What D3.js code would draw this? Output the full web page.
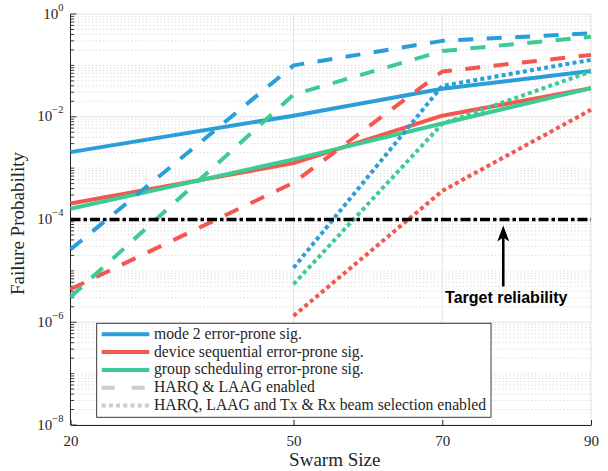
<!DOCTYPE html>
<html>
<head>
<meta charset="utf-8">
<script src="https://cdn.jsdelivr.net/npm/d3@7"></script>
<style>
  html, body { margin: 0; padding: 0; background: #fff; }
  svg { display: block; }
</style>
</head>
<body>
<svg id="chart" width="608" height="471"></svg>
<script>
// Swarm sizes evaluated
const swarmSizes = [20, 50, 70, 90];
const swarmSizesBeam = [50, 70, 90];

// Failure probability, plain error-prone signalling
const mode2Plain  = [2.05e-3, 1.05e-2, 0.035, 0.078];
const devSeqPlain = [2.05e-4, 1.25e-3, 1.05e-2, 0.036];
const groupPlain  = [1.62e-4, 1.48e-3, 7.4e-3, 0.036];

// With HARQ & LAAG
const mode2Harq  = [2.6e-5, 0.10, 0.30, 0.42];
const devSeqHarq = [4.4e-6, 5.2e-4, 0.076, 0.16];
const groupHarq  = [3.1e-6, 0.027, 0.19, 0.36];

// With HARQ, LAAG and Tx & Rx beam selection
const mode2Beam  = [1.15e-5, 0.040, 0.128];
const devSeqBeam = [1.33e-6, 3.6e-4, 0.0137];
const groupBeam  = [5.5e-6, 7.3e-3, 0.076];

const targetReliability = 1e-4;

const xTicks = [20, 50, 70, 90];
const yTickExponents = [0, -2, -4, -6, -8];

const legendLabels = [
  "mode 2 error-prone sig.",
  "device sequential error-prone sig.",
  "group scheduling error-prone sig.",
  "HARQ & LAAG enabled",
  "HARQ, LAAG and Tx & Rx beam selection enabled"
];

const annotationText = "Target reliability";
const annotationX = 78.2;

// ---- drawing ----
const BLUE = "#2a9ed8", RED = "#f4574f", GREEN = "#3ccb93";
const AXIS = "#262626";
const SERIF = "'Liberation Serif', 'Times New Roman', serif";

const svg = d3.select("#chart");
svg.append("rect").attr("width", 608).attr("height", 471).attr("fill", "#fff");

const plot = { left: 70.5, right: 591, top: 14, bottom: 425 };

const x = d3.scaleLinear().domain([20, 90]).range([plot.left, plot.right]);
const y = d3.scaleLog().domain([1e-8, 1]).range([plot.bottom, plot.top]);

// grid
const grid = svg.append("g");
const minorVals = [];
for (let e = -8; e < 0; e++) {
  for (let k = 1; k <= 9; k++) {
    const v = k * Math.pow(10, e);
    if (k === 1 && e % 2 === 0) continue;
    minorVals.push(v);
  }
}
grid.selectAll("line.minor").data(minorVals).join("line")
  .attr("x1", plot.left).attr("x2", plot.right)
  .attr("y1", d => y(d)).attr("y2", d => y(d))
  .attr("stroke", "#c4c4c4").attr("stroke-width", 0.8)
  .attr("stroke-dasharray", "1,2.6");
grid.selectAll("line.majy").data(yTickExponents.map(e => Math.pow(10, e))).join("line")
  .attr("x1", plot.left).attr("x2", plot.right)
  .attr("y1", d => y(d)).attr("y2", d => y(d))
  .attr("stroke", "#e2e2e2").attr("stroke-width", 1);
grid.selectAll("line.majx").data(xTicks.slice(1)).join("line")
  .attr("x1", d => x(d)).attr("x2", d => x(d))
  .attr("y1", plot.top).attr("y2", plot.bottom)
  .attr("stroke", "#e2e2e2").attr("stroke-width", 1);

// axes
const xAxis = d3.axisBottom(x).tickValues(xTicks).tickSizeInner(-5).tickSizeOuter(0)
  .tickPadding(10).tickFormat(d3.format("d"));
const gx = svg.append("g").attr("transform", `translate(0,${plot.bottom})`).call(xAxis);
gx.select(".domain").attr("stroke", AXIS);
gx.selectAll(".tick line").attr("stroke", AXIS);
gx.selectAll(".tick text").attr("font-family", SERIF).attr("font-size", 15).attr("fill", AXIS);

const allYTicks = [];
for (let e = -8; e < 0; e++) for (let k = 1; k <= 9; k++) allYTicks.push(k * Math.pow(10, e));
allYTicks.push(1);
const gy = svg.append("g").attr("transform", `translate(${plot.left},0)`);
gy.append("line").attr("x1", 0).attr("x2", 0).attr("y1", plot.top).attr("y2", plot.bottom)
  .attr("stroke", AXIS);
gy.selectAll("line.t").data(allYTicks).join("line")
  .attr("x1", 0)
  .attr("x2", d => { const l = Math.log10(d); return Math.abs(l - Math.round(l)) < 1e-9 && Math.round(l) % 2 === 0 ? 6 : 3.5; })
  .attr("y1", d => y(d)).attr("y2", d => y(d))
  .attr("stroke", AXIS).attr("stroke-width", 0.9);
const yl = gy.selectAll("text.lab").data(yTickExponents).join("text")
  .attr("x", -7).attr("y", d => y(Math.pow(10, d)) + 4.5)
  .attr("text-anchor", "end").attr("font-family", SERIF).attr("font-size", 15).attr("fill", AXIS);
yl.append("tspan").text("10");
yl.append("tspan").attr("dy", -8).attr("font-size", 10.5)
  .text(d => d === 0 ? "0" : "\u2212" + Math.abs(d));

// axis titles
svg.append("text").attr("x", (plot.left + plot.right) / 2 + 4).attr("y", 466)
  .attr("text-anchor", "middle").attr("font-family", SERIF).attr("font-size", 19).attr("fill", AXIS)
  .text("Swarm Size");
svg.append("text").attr("transform", `translate(24,${(plot.top + plot.bottom) / 2 + 4}) rotate(-90)`)
  .attr("text-anchor", "middle").attr("font-family", SERIF).attr("font-size", 19).attr("fill", AXIS)
  .text("Failure Probability");

// series
const line = d3.line().x(d => x(d[0])).y(d => y(d[1]));
const styles = { solid: null, dashed: "15,13.5", dotted: "4,3.2" };
const series = [
  [swarmSizes, mode2Plain, BLUE, "solid"],
  [swarmSizes, devSeqPlain, RED, "solid"],
  [swarmSizes, groupPlain, GREEN, "solid"],
  [swarmSizes, mode2Harq, BLUE, "dashed"],
  [swarmSizes, devSeqHarq, RED, "dashed"],
  [swarmSizes, groupHarq, GREEN, "dashed"],
  [swarmSizesBeam, mode2Beam, BLUE, "dotted"],
  [swarmSizesBeam, devSeqBeam, RED, "dotted"],
  [swarmSizesBeam, groupBeam, GREEN, "dotted"]
];
const gs = svg.append("g");
series.forEach(([xs, vs, col, st]) => {
  gs.append("path").datum(xs.map((v, i) => [v, vs[i]]))
    .attr("d", line).attr("fill", "none").attr("stroke", col).attr("stroke-width", 4)
    .attr("stroke-linejoin", "round")
    .attr("stroke-dasharray", styles[st]);
});

// target reliability line
gs.append("path").datum([[20, targetReliability], [90, targetReliability]])
  .attr("d", line).attr("fill", "none").attr("stroke", "#000").attr("stroke-width", 3.4)
  .attr("stroke-dasharray", "10,3,3.5,3");

// annotation arrow
const ax = x(annotationX), tipY = y(targetReliability) + 6, tailY = tipY + 61;
svg.append("line").attr("x1", ax).attr("x2", ax).attr("y1", tailY).attr("y2", tipY + 12)
  .attr("stroke", "#000").attr("stroke-width", 2.6);
svg.append("path")
  .attr("d", `M${ax},${tipY} L${ax - 6},${tipY + 16} L${ax},${tipY + 12} L${ax + 6},${tipY + 16} Z`)
  .attr("fill", "#000");
svg.append("text").attr("x", ax + 3).attr("y", tailY + 16.5).attr("text-anchor", "middle")
  .attr("font-family", "'Liberation Sans', Arial, sans-serif").attr("font-weight", "bold")
  .attr("font-size", 16).attr("fill", "#000").text(annotationText);

// legend
const lg = svg.append("g");
lg.append("rect").attr("x", 96.7).attr("y", 323.3).attr("width", 394.3).attr("height", 94)
  .attr("fill", "#fff").attr("stroke", AXIS).attr("stroke-width", 0.9);
const legendStyles = [
  [BLUE, null], [RED, null], [GREEN, null], ["#cccccc", "13,17"], ["#cccccc", "4,3.2"]
];
legendLabels.forEach((lab, i) => {
  const cy = 334.3 + i * 17.8;
  lg.append("line").attr("x1", 101.7).attr("x2", 149.3).attr("y1", cy).attr("y2", cy)
    .attr("stroke", legendStyles[i][0]).attr("stroke-width", 4)
    .attr("stroke-dasharray", legendStyles[i][1]);
  lg.append("text").attr("x", 154).attr("y", cy + 4.5)
    .attr("font-family", SERIF).attr("font-size", 15.7).attr("fill", AXIS).text(lab);
});
</script>
</body>
</html>
